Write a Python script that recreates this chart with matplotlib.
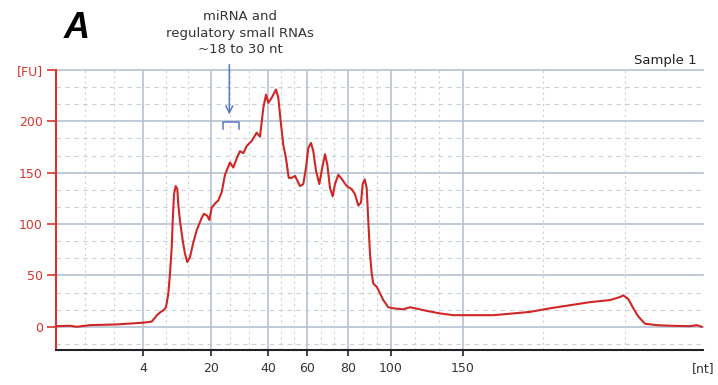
import matplotlib
matplotlib.use("Agg")
import matplotlib.pyplot as plt
import numpy as np

# ---- data -------------------------------------------------------------
# electropherogram: migration time [s] vs fluorescence [FU]
time_s = [20.07, 21.4, 22.07, 23.4, 26.07, 28.73, 29.57, 30.07, 30.4, 30.73,
          31.0, 31.23, 31.4, 31.57, 31.67, 31.8, 31.97, 32.13, 32.23, 32.4,
          32.67, 32.9, 33.13, 33.4, 33.73, 34.07, 34.57, 34.8, 35.13, 35.33,
          35.57, 35.9, 36.23, 36.57, 36.9, 37.4, 37.73, 38.07, 38.4, 38.73,
          39.07, 39.57, 40.07, 40.4, 40.73, 41.0, 41.23, 41.57, 42.0, 42.23,
          42.47, 42.73, 43.0, 43.27, 43.57, 43.9, 44.4, 44.73, 45.0, 45.23,
          45.5, 45.73, 46.0, 46.33, 46.57, 46.9, 47.13, 47.4, 47.67, 47.9,
          48.23, 48.57, 49.07, 49.57, 49.9, 50.23, 50.5, 50.67, 50.87, 51.07,
          51.23, 51.4, 51.57, 51.73, 52.07, 52.33, 52.73, 53.23, 53.73, 54.73,
          55.4, 55.9, 57.07, 58.4, 59.73, 61.73, 63.73, 65.73, 67.4, 69.4,
          71.4, 73.4, 75.4, 76.4, 76.73, 77.23, 77.73, 78.23, 78.9, 80.07,
          81.4, 83.4, 84.07, 84.57]
fu = [0.6, 1.0, 0.0, 1.6, 2.3, 4, 5, 11, 14, 16,
      19, 32, 52, 77, 103, 129, 137, 134, 119, 103,
      84, 71, 63, 68, 82, 94, 106, 110, 108, 104,
      116, 120, 123, 131, 148, 160, 155, 164, 171, 169,
      176, 181, 189, 185, 213, 226, 218, 223, 231, 223,
      200, 177, 164, 145, 145, 147, 137, 139, 155, 174,
      179, 171, 152, 139, 152, 168, 158, 135, 127, 139,
      148, 144, 137, 134, 129, 118, 121, 139, 143.5, 135,
      103, 71, 52, 42, 39, 34, 26, 19, 18, 17,
      19, 18, 15.5, 13, 11.3, 11.3, 11.3, 13, 14.5, 18,
      21, 24, 26, 29, 30.6, 27, 18, 10, 3, 1.6,
      1, 0.6, 1.6, 0]

ladder_nt = ["4", "20", "40", "60", "80", "100", "150"]
ladder_time = [28.73, 35.5, 41.23, 45.07, 49.23, 53.5, 60.67]
extra_grid_time = [68.73, 76.9]

y_ticks = [0, 50, 100, 150, 200, 250]
y_labels = ["0", "50", "100", "150", "200", "[FU]"]

annot_text = "miRNA and\nregulatory small RNAs\n~18 to 30 nt"
mirna_time = 37.33
mirna_range = (36.73, 38.33)

# ---- figure -----------------------------------------------------------
W, H = 718, 385
fig = plt.figure(figsize=(W / 100, H / 100), dpi=100)
fig.patch.set_facecolor("white")
ax = fig.add_axes([56 / W, 35 / H, 647 / W, 280 / H])
xlim = (20.0, 84.7)
ylim = (-22.6, 250)
ax.set_xlim(*xlim)
ax.set_ylim(*ylim)

major_c = "#b6c2d2"
minor_c = "#c9d0da"

# vertical grid
edges = [xlim[0]] + ladder_time
for a, b in zip(edges[:-1], edges[1:]):
    for k in (1, 2):
        ax.axvline(a + (b - a) * k / 3, color=minor_c, lw=0.8,
                   ls=(0, (2, 3)), zorder=1)
for t in extra_grid_time:
    ax.axvline(t, color=minor_c, lw=0.8, ls=(0, (2, 3)), zorder=1)
for t in ladder_time:
    ax.axvline(t, color=major_c, lw=1.2, zorder=1.5)

# horizontal grid
for v in np.arange(-50 / 3, 249, 50 / 3):
    if abs(v / 50 - round(v / 50)) < 1e-6:
        continue
    ax.axhline(v, color=minor_c, lw=0.8, ls=(0, (4, 4)), zorder=1)
for v in [0, 50, 100, 150, 200, 250]:
    ax.axhline(v, color=major_c, lw=1.2, zorder=1.5, clip_on=False)

# curve
ax.plot(time_s, fu, color="#cf2626", lw=1.5, zorder=3)

# spines / ticks
for s in ("top", "right"):
    ax.spines[s].set_visible(False)
ax.spines["left"].set_color("#d9342f")
ax.spines["left"].set_linewidth(1.5)
ax.spines["bottom"].set_color("#222222")
ax.spines["bottom"].set_linewidth(1.5)

ax.set_yticks(y_ticks)
ax.set_yticklabels(y_labels)
ax.tick_params(axis="y", colors="#d9342f", labelcolor="#d9342f",
               length=6.5, width=1.2, pad=3, labelsize=9)
ax.set_xticks(ladder_time)
ax.set_xticklabels(ladder_nt)
ax.tick_params(axis="x", colors="#222222", labelcolor="#333333",
               length=4.5, width=1.2, pad=4, labelsize=9)
ax.text(1.0, -0.042, "[nt]", transform=ax.transAxes, ha="center", va="top",
        fontsize=9, color="#333333")

# sample label
ax.text(0.99, 1.01, "Sample 1", transform=ax.transAxes, ha="right",
        va="bottom", fontsize=9.5, color="#222222")

# annotation arrow and bracket
ax.annotate("", xy=(mirna_time, 204), xytext=(mirna_time, 258),
            arrowprops=dict(arrowstyle="->,head_length=0.5,head_width=0.25",
                            color="#5a78c8", lw=1.1),
            annotation_clip=False, zorder=4)
ax.plot([mirna_range[0], mirna_range[0], mirna_range[1], mirna_range[1]],
        [193, 199, 199, 193], color="#5a78c8", lw=1.1, zorder=4,
        clip_on=False)

fig.text(240 / W, 1 - 33 / H, annot_text, ha="center", va="center",
         fontsize=9.5, color="#333333", linespacing=1.35)

fig.text(76.7 / W, 1 - 28.5 / H, "A", ha="center", va="center",
         fontsize=26, fontweight="bold", fontstyle="italic",
         family="Liberation Sans", color="black")

fig.savefig("out.png", dpi=100, facecolor="white")
